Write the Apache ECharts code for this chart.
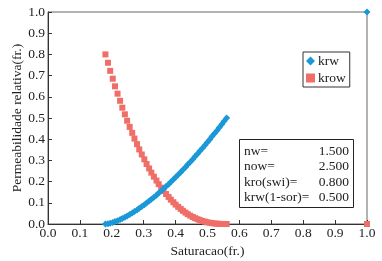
<!DOCTYPE html>
<html><head><meta charset="utf-8">
<script src="https://cdn.jsdelivr.net/npm/echarts@6/dist/echarts.min.js"></script>
<style>html,body{margin:0;padding:0;background:#fff}#c{width:382px;height:261px}</style>
</head><body><div id="c"></div>
<script>
var sw = [0.180,0.188,0.195,0.203,0.210,0.218,0.226,0.233,0.241,0.248,0.256,0.264,0.271,0.279,0.286,0.294,0.302,0.309,0.317,0.324,0.332,0.340,0.347,0.355,0.362,0.370,0.378,0.385,0.393,0.400,0.408,0.416,0.423,0.431,0.438,0.446,0.454,0.461,0.469,0.476,0.484,0.492,0.499,0.507,0.514,0.522,0.530,0.537,0.545,0.552,0.560,1.0];
var krw = [0,0.0014,0.004,0.0073,0.0113,0.0158,0.0208,0.0262,0.032,0.0382,0.0447,0.0516,0.0588,0.0663,0.0741,0.0822,0.0905,0.0991,0.108,0.1171,0.1265,0.1361,0.1459,0.156,0.1663,0.1768,0.1875,0.1984,0.2095,0.2209,0.2324,0.2441,0.256,0.2681,0.2804,0.2928,0.3055,0.3183,0.3313,0.3444,0.3578,0.3713,0.3849,0.3988,0.4128,0.4269,0.4412,0.4557,0.4703,0.4851,0.5,1.0];
var krow = [0.8,0.7606,0.7224,0.6854,0.6495,0.6147,0.5812,0.5487,0.5174,0.4871,0.4579,0.4299,0.4028,0.3768,0.3519,0.328,0.305,0.2831,0.2621,0.2421,0.2231,0.205,0.1877,0.1714,0.156,0.1414,0.1277,0.1148,0.1027,0.0915,0.081,0.0712,0.0622,0.0539,0.0463,0.0394,0.0332,0.0276,0.0226,0.0182,0.0143,0.011,0.0082,0.0059,0.004,0.0025,0.0014,0.0007,0.0003,0.0001,0,0];
var seriesNames = ['krw','krow'];
var paramLabels = ['nw=','now=','kro(swi)=','krw(1-sor)='];
var paramValues = ['1.500','2.500','0.800','0.500'];
var xTitle = 'Saturacao(fr.)';
var yTitle = 'Permeabilidade relativa(fr.)';

var FONT = "'Liberation Serif','Times New Roman',Times,serif";
function pairs(xs, ys){ return xs.map(function(x,i){ return [x, ys[i]]; }); }

var chart = echarts.init(document.getElementById('c'));
var gfx = [{
  type:'rect', left:239, top:139, shape:{width:114, height:68},
  style:{fill:'#fff', stroke:'#222', lineWidth:1}, z:10
}];
paramLabels.forEach(function(l,i){
  gfx.push({type:'text', left:244, top:144+i*15.5, z:11,
    style:{text:l, font:"13.5px "+FONT, fill:'#222'}});
  gfx.push({type:'text', right:382-349, top:144+i*15.5, z:11,
    style:{text:paramValues[i], font:"13.5px "+FONT, fill:'#222'}});
});

chart.setOption({
  animation:false,
  backgroundColor:'#fff',
  grid:{left:48, right:15, top:12, bottom:37, show:true, borderColor:'#666', borderWidth:1,
        containLabel:false, outerBoundsMode:'none'},
  legend:{
    data:[{name:'krw', icon:'diamond'},{name:'krow', icon:'rect'}],
    orient:'vertical', left:303, top:52, itemWidth:9, itemHeight:9, itemGap:3,
    padding:[2,4,2,3], borderColor:'#333', borderWidth:1, backgroundColor:'#fff',
    textStyle:{fontFamily:FONT, fontSize:13.5, color:'#222', padding:[0,0,0,-2]}
  },
  xAxis:{
    type:'value', min:0, max:1, interval:0.1,
    name:xTitle, nameLocation:'middle', nameGap:20, nameMoveOverlap:false,
    nameTextStyle:{fontFamily:FONT, fontSize:13.5, color:'#222'},
    axisLine:{lineStyle:{color:'#333'}},
    axisTick:{inside:true, length:4, lineStyle:{color:'#333'}},
    axisLabel:{fontFamily:FONT, fontSize:13.5, color:'#222', margin:2, formatter:function(v){return v.toFixed(1);}},
    splitLine:{show:false}
  },
  yAxis:{
    type:'value', min:0, max:1, interval:0.1,
    name:yTitle, nameLocation:'middle', nameGap:24, nameMoveOverlap:false,
    nameTextStyle:{fontFamily:FONT, fontSize:13.5, color:'#222'},
    axisLine:{show:true, lineStyle:{color:'#333'}},
    axisTick:{show:true, inside:true, length:4, lineStyle:{color:'#333'}},
    axisLabel:{fontFamily:FONT, fontSize:13.5, color:'#222', margin:3, formatter:function(v){return v.toFixed(1);}},
    splitLine:{show:false}
  },
  series:[
    {name:'krw', type:'scatter', symbol:'diamond', symbolSize:7, data:pairs(sw, krw),
     itemStyle:{color:'#1a98d8', opacity:1}, z:3},
    {name:'krow', type:'scatter', symbol:'rect', symbolSize:6, data:pairs(sw, krow),
     itemStyle:{color:'#f06e68', opacity:1}, z:2}
  ],
  graphic:gfx
});
</script></body></html>
